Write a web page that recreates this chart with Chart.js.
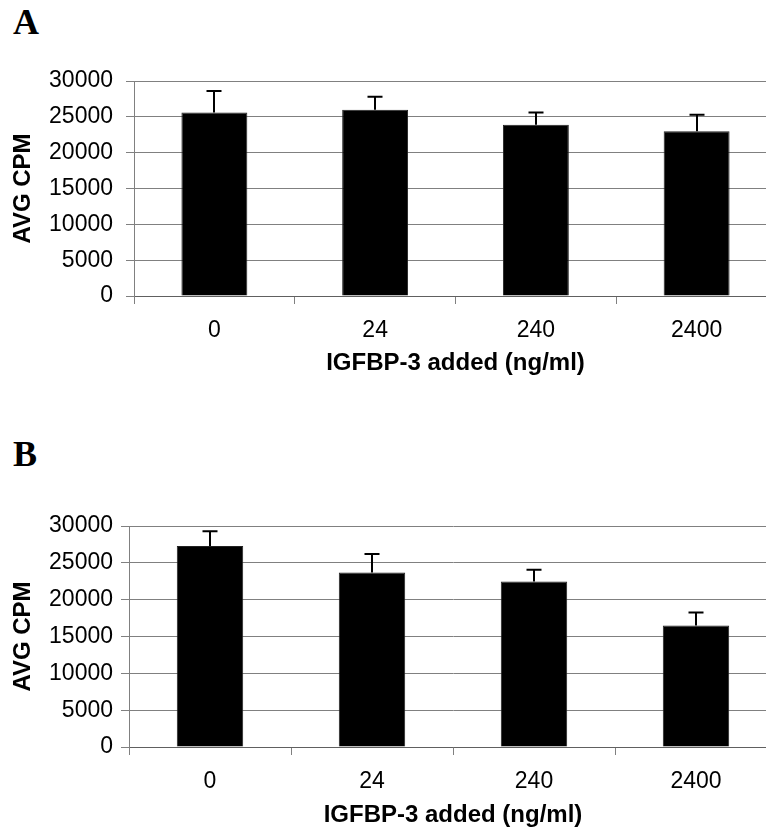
<!DOCTYPE html>
<html>
<head>
<meta charset="utf-8">
<script src="https://cdn.jsdelivr.net/npm/chart.js@4/dist/chart.umd.min.js"></script>
<style>
  html, body { margin: 0; padding: 0; background: #fff; }
  body { width: 766px; height: 836px; overflow: hidden; position: relative; }
  .panel { position: absolute; font-family: "Liberation Serif", "Times New Roman", serif; font-weight: bold; font-size: 36px; line-height: 36px; color: #000; }
  .wrap { position: absolute; left: 0; }
</style>
</head>
<body>
<div class="panel" style="left:13px;top:4px">A</div>
<div class="panel" style="left:13px;top:436px">B</div>
<div class="wrap" style="top:0px;width:790px;height:400px"><canvas id="chartA" width="790" height="400"></canvas></div>
<div class="wrap" style="top:450px;width:790px;height:400px"><canvas id="chartB" width="790" height="400"></canvas></div>
<script>
// ---- data ----
const categories = ["0", "24", "240", "2400"];
const valuesA = [25600, 26000, 23900, 23000];
const errorsA = [3000, 1800, 1700, 2300];
const valuesB = [27300, 23700, 22450, 16500];
const errorsB = [2000, 2500, 1600, 1750];
const yTicks = [0, 5000, 10000, 15000, 20000, 25000, 30000];
const xTitle = "IGFBP-3 added (ng/ml)";
const yTitle = "AVG CPM";

const errorBarsPlugin = {
  id: 'errorBars',
  afterDatasetsDraw(chart, args, opts) {
    const ctx = chart.ctx;
    const meta = chart.getDatasetMeta(0);
    const ys = chart.scales.y;
    const vals = chart.data.datasets[0].data;
    ctx.save();
    ctx.strokeStyle = '#000';
    ctx.lineWidth = 2;
    meta.data.forEach((bar, i) => {
      const yTop = ys.getPixelForValue(vals[i] + opts.errors[i]);
      const x = Math.round(bar.x);
      ctx.beginPath();
      ctx.moveTo(x, bar.y);
      ctx.lineTo(x, yTop);
      ctx.moveTo(x - 7.5, yTop);
      ctx.lineTo(x + 7.5, yTop);
      ctx.stroke();
    });
    ctx.restore();
  }
};

function makeChart(id, values, errors, geo) {
  const tickFont = { family: "'Liberation Sans', Arial, sans-serif", size: 23 };
  const titleFont = { family: "'Liberation Sans', Arial, sans-serif", size: 24, weight: 'bold' };
  return new Chart(document.getElementById(id), {
    type: 'bar',
    data: {
      labels: categories,
      datasets: [{
        data: values,
        backgroundColor: '#000',
        borderColor: '#222',
        borderWidth: 1,
        barPercentage: 0.41,
        categoryPercentage: 1.0
      }]
    },
    options: {
      responsive: false,
      animation: false,
      devicePixelRatio: 1,
      layout: { padding: { top: geo.top, right: 13, bottom: 0, left: 0 } },
      plugins: {
        legend: { display: false },
        tooltip: { enabled: false },
        errorBars: { errors: errors }
      },
      scales: {
        x: {
          grid: { display: true, drawOnChartArea: false, drawTicks: true, tickLength: 8, offset: true, color: '#808080', lineWidth: 1 },
          border: { display: true, color: '#606060', width: 1 },
          ticks: { color: '#000', font: tickFont, padding: geo.xPad, maxRotation: 0 },
          title: { display: true, text: xTitle, color: '#000', font: titleFont, padding: { top: 0, bottom: geo.titleBottom } },
          afterFit(scale) { scale.height = geo.xHeight; }
        },
        y: {
          min: 0, max: 30000,
          afterBuildTicks(scale) { scale.ticks = yTicks.map(v => ({ value: v })); },
          grid: { color: '#808080', lineWidth: 1, tickLength: 8, drawTicks: true },
          border: { display: true, color: '#808080', width: 1 },
          ticks: { color: '#000', font: tickFont, padding: geo.yPad, callback: (v) => String(v) },
          title: { display: true, text: yTitle, color: '#000', font: titleFont, padding: { top: 8.5, bottom: 0 } },
          afterFit(scale) { scale.width = geo.left; }
        }
      }
    },
    plugins: [errorBarsPlugin]
  });
}

makeChart('chartA', valuesA, errorsA, { top: 81, left: 134, xHeight: 104, titleBottom: 22.5, xPad: 13, yPad: 13 });
makeChart('chartB', valuesB, errorsB, { top: 76, left: 129, xHeight: 103, titleBottom: 20.5, xPad: 13, yPad: 8 });
</script>
</body>
</html>
